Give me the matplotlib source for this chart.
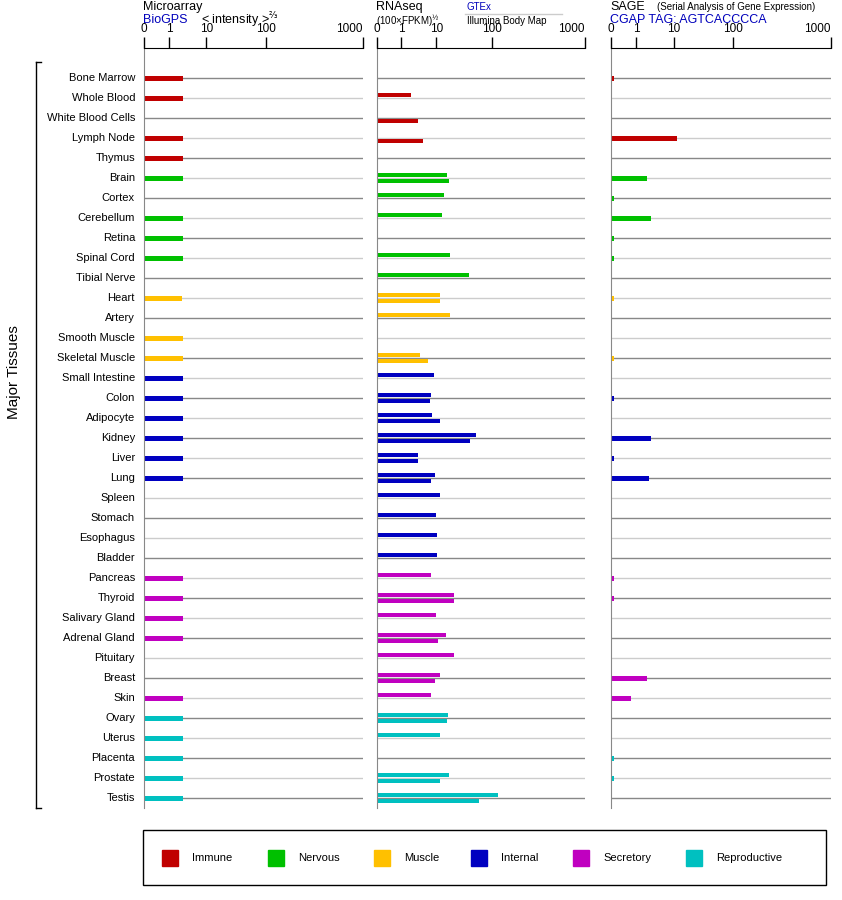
import numpy as np
import matplotlib
matplotlib.use("Agg")
import matplotlib.pyplot as plt
from matplotlib.patches import Rectangle

plt.rcParams["font.family"] = "Liberation Sans"
N = np.nan
tissues = ["Bone Marrow","Whole Blood","White Blood Cells","Lymph Node","Thymus",
 "Brain","Cortex","Cerebellum","Retina","Spinal Cord","Tibial Nerve",
 "Heart","Artery","Smooth Muscle","Skeletal Muscle",
 "Small Intestine","Colon","Adipocyte","Kidney","Liver","Lung","Spleen","Stomach","Esophagus","Bladder",
 "Pancreas","Thyroid","Salivary Gland","Adrenal Gland","Pituitary","Breast","Skin",
 "Ovary","Uterus","Placenta","Prostate","Testis"]
groups = ["Immune"]*5+["Nervous"]*6+["Muscle"]*4+["Internal"]*10+["Secretory"]*7+["Reproductive"]*5
group_names = ["Immune","Nervous","Muscle","Internal","Secretory","Reproductive"]
group_colors = ["#c00000","#00c000","#ffc000","#0000c0","#c000c0","#00c0c0"]
microarray = [2.8,2.8,N,2.8,2.8, 2.8,N,2.8,2.8,2.8,N, 2.6,N,2.8,2.8,
 2.8,2.8,2.8,2.8,2.8,2.8,N,N,N,N, 2.8,2.8,2.8,2.8,N,N,2.8, 2.8,2.8,2.8,2.8,2.8]
gtex = [N,2.2,N,N,N, 17.5,15,13.6,N,20,44, 12,20,N,4.1,
 9,7.8,8.2,58,3.6,9.4,12,10,10.5,10.5, 7.8,24,10,16.5,24,12.5,7.8, 18,12.5,N,19,120]
illumina = [N,N,3.6,4.9,N, 19,N,N,N,N,N, 12,N,N,6.5,
 N,7.4,12,46,3.6,7.8,N,N,N,N, N,24,N,11,N,9.4,N, 17.5,N,N,12,64]
t = 0.0003
sage = [t,N,N,11.8,N, 2.25,t,2.9,t,t,N, t,N,N,t,
 N,t,N,2.9,t,2.55,N,N,N,N, t,t,N,N,N,2.25,0.39, N,N,t,t,N]
ticks = [0,1,10,100,1000]

U = np.array(ticks, float)**0.25
F = np.array([0,0.115,0.285,0.555,1.0])
def fwd(v):
    return np.interp(np.clip(np.asarray(v,float),0,None)**0.25, U, F)
def inv(f):
    return np.interp(np.asarray(f,float), F, U)**4

W, H = 842, 900
fig = plt.figure(figsize=(W/100, H/100), dpi=100)
def ax_px(x0,x1,y0,y1):
    return fig.add_axes([x0/W, 1-y1/H, (x1-x0)/W, (y1-y0)/H])

colors = [group_colors[group_names.index(g)] for g in groups]
rows = np.arange(len(tissues))
panels = [(144,363,"micro"),(377,585,"rna"),(611,831,"sage")]
TOP = 48
for x0,x1,kind in panels:
    ax = ax_px(x0,x1,TOP,808)
    ax.set_xscale("function", functions=(fwd, inv))
    ax.set_xlim(0,1000)
    ax.set_ylim(36.5,(78-TOP)/-20)
    for s in ["right","bottom"]:
        ax.spines[s].set_visible(False)
    ax.spines["left"].set_color("#888888")
    ax.spines["top"].set_color("black")
    ax.xaxis.tick_top()
    ax.set_xticks(ticks)
    ax.set_xticklabels([str(v) for v in ticks], fontsize=8.5)
    ax.get_xticklabels()[-1].set_horizontalalignment("right")
    ax.tick_params(axis="x", length=8, width=1, pad=1, color="black")
    ax.set_yticks([])
    for i in rows:
        ax.axhline(i, color="#888888" if i%2==0 else "#cccccc", lw=1, zorder=0)
    if kind=="micro":
        ax.barh(rows, microarray, height=0.25, color=colors)
    elif kind=="rna":
        ax.barh(rows-0.15, gtex, height=0.16, color=colors)
        ax.barh(rows+0.15, illumina, height=0.16, color=colors)
    else:
        ax.barh(rows, sage, height=0.25, color=colors)

for i,tx in enumerate(tissues):
    fig.text(135/W, 1-(78+20*i)/H, tx, ha="right", va="center", fontsize=8)

fig.add_artist(plt.Line2D([36/W,36/W],[1-62/H,1-808/H], color="black", lw=1))
fig.add_artist(plt.Line2D([36/W,41/W],[1-62/H,1-62/H], color="black", lw=1))
fig.add_artist(plt.Line2D([36/W,41/W],[1-808/H,1-808/H], color="black", lw=1))
fig.text(14/W, 1-372/H, "Major Tissues", rotation=90, ha="center", va="center", fontsize=11)

blue = "#0000bb"
def T(x,y,s,**k):
    fig.text(x/W, 1-y/H, s, va="center", **k)
T(143,7,"Microarray",fontsize=9)
T(143,20,"BioGPS",fontsize=9,color=blue)
T(201,20,r"< intensity >$^{⅔}$",fontsize=9)
T(376,7,"RNAseq",fontsize=9)
T(376,21,r"(100×FPKM)$^{½}$",fontsize=7)
T(467,7,"GTEx",fontsize=7,color=blue)
fig.add_artist(plt.Line2D([465/W,562/W],[1-14/H,1-14/H], color="#cccccc", lw=1))
T(467,21,"Illumina Body Map",fontsize=7)
T(610,7,"SAGE",fontsize=9)
T(657,7,"(Serial Analysis of Gene Expression)",fontsize=7)
T(610,20,"CGAP TAG: AGTCACCCCA",fontsize=9,color=blue)

fig.add_artist(Rectangle((143/W,1-885/H),(826-143)/W,55/H, fill=False, ec="black", lw=1))
lx = [162,268,374,471,573,686]
for x,n,c in zip(lx,group_names,group_colors):
    fig.add_artist(Rectangle((x/W,1-866/H),16/W,16/H, color=c))
    T(x+30,858,n,fontsize=8)

fig.savefig("out.png", dpi=100)
